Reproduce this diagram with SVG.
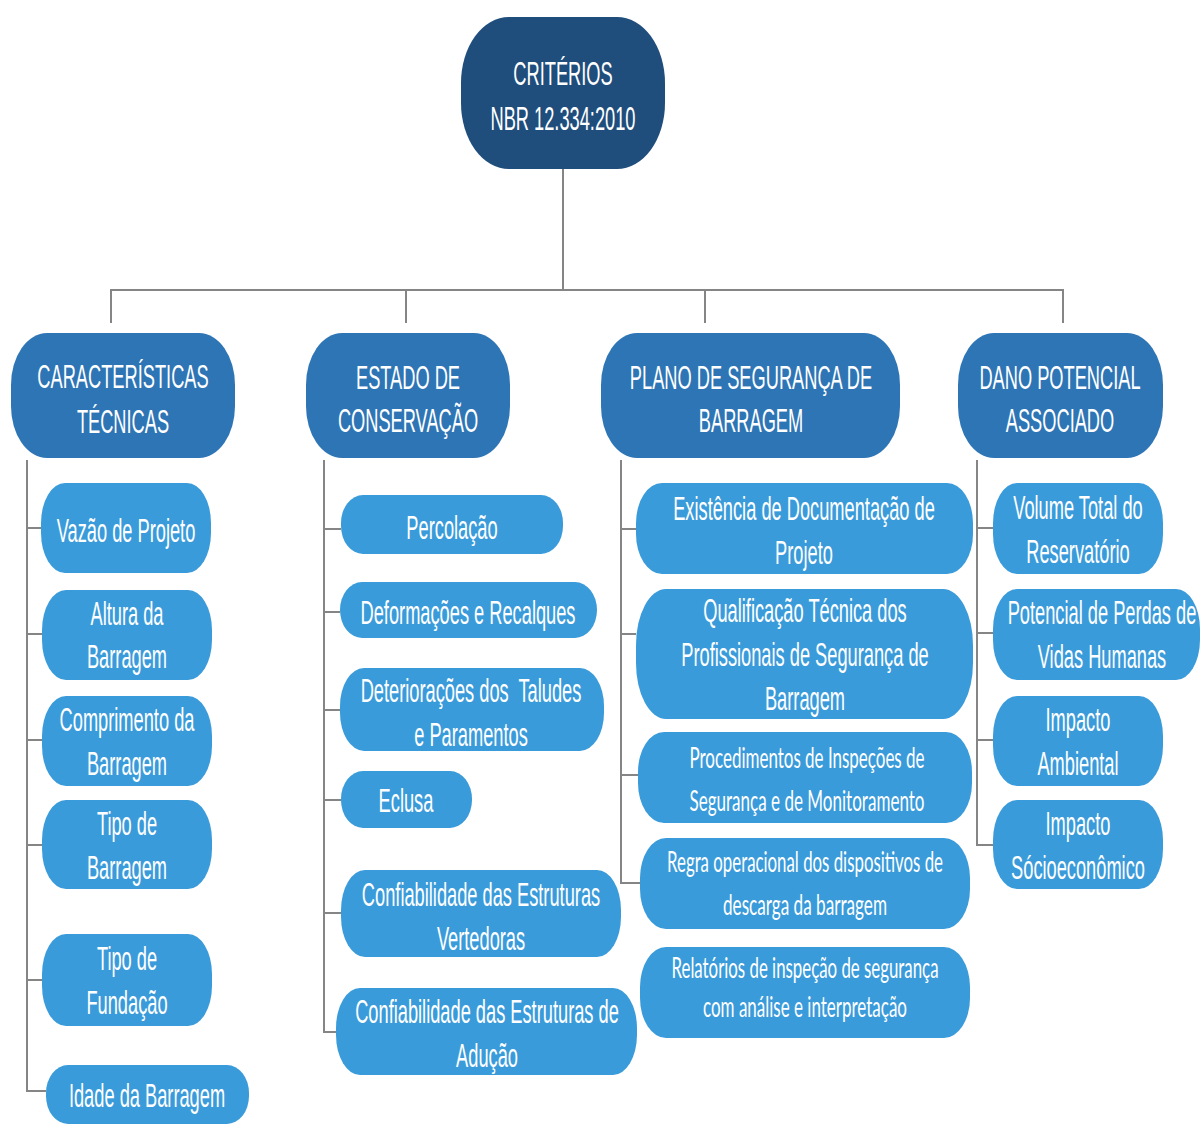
<svg xmlns="http://www.w3.org/2000/svg" width="1200" height="1140" viewBox="0 0 1200 1140">
  <style>
    .root { fill: #1f4e7d; }
    .cat { fill: #2e75b6; }
    .leaf { fill: #3a9bdb; }
    .wire { fill: none; stroke: #858585; stroke-width: 2; }
    .t { font-family: "Liberation Sans", Arial, sans-serif; font-size: 33px; fill: #ffffff; text-anchor: middle; }
    .c { font-family: Lato, "Open Sans", sans-serif; font-size: 28px; fill: #ffffff; text-anchor: middle; }
  </style>

  <rect width="1200" height="1140" fill="#ffffff"/>

  <!-- connectors -->
  <g id="connectors" class="wire">
    <path d="M563 169 V290"/>
    <path d="M111 323 V290 H1063 V323"/>
    <path d="M406 290 V323"/>
    <path d="M705 290 V323"/>
    <!-- column 1 spine -->
    <path d="M27 460 V1091 H46"/>
    <path d="M27 528 H41"/>
    <path d="M27 634 H42"/>
    <path d="M27 740 H42"/>
    <path d="M27 845 H42"/>
    <path d="M27 980 H42"/>
    <!-- column 2 spine -->
    <path d="M324 460 V1032 H336"/>
    <path d="M324 529 H341"/>
    <path d="M324 612 H340"/>
    <path d="M324 710 H340"/>
    <path d="M324 800 H341"/>
    <path d="M324 913 H341"/>
    <!-- column 3 spine -->
    <path d="M621 460 V883 H640"/>
    <path d="M621 529 H636"/>
    <path d="M621 634 H636"/>
    <path d="M621 775 H638"/>
    <!-- column 4 spine -->
    <path d="M977 460 V845 H993"/>
    <path d="M977 528 H993"/>
    <path d="M977 633 H993"/>
    <path d="M977 740 H993"/>
  </g>

  <!-- root -->
  <g id="criterios">
    <rect class="root" x="461" y="17" width="204" height="152" rx="48" ry="66"/>
    <g transform="translate(563 0) scale(0.553 1)">
      <text class="t" x="0" y="85">CRITÉRIOS</text>
      <text class="t" x="0" y="130">NBR 12.334:2010</text>
    </g>
  </g>

  <!-- categories -->
  <g id="caracteristicas-tecnicas">
    <rect class="cat" x="11" y="333" width="224" height="125" rx="36" ry="52"/>
    <g transform="translate(123 0) scale(0.553 1)">
      <text class="t" x="0" y="388">CARACTERÍSTICAS</text>
      <text class="t" x="0" y="433">TÉCNICAS</text>
    </g>
  </g>
  <g id="estado-de-conservacao">
    <rect class="cat" x="306" y="333" width="204" height="125" rx="36" ry="52"/>
    <g transform="translate(408 0) scale(0.553 1)">
      <text class="t" x="0" y="389">ESTADO DE</text>
      <text class="t" x="0" y="432">CONSERVAÇÃO</text>
    </g>
  </g>
  <g id="plano-de-seguranca">
    <rect class="cat" x="601" y="333" width="299" height="125" rx="36" ry="52"/>
    <g transform="translate(751 0) scale(0.553 1)">
      <text class="t" x="0" y="389">PLANO DE SEGURANÇA DE</text>
      <text class="t" x="0" y="432">BARRAGEM</text>
    </g>
  </g>
  <g id="dano-potencial">
    <rect class="cat" x="958" y="333" width="205" height="125" rx="36" ry="52"/>
    <g transform="translate(1060 0) scale(0.553 1)">
      <text class="t" x="0" y="389">DANO POTENCIAL</text>
      <text class="t" x="0" y="432">ASSOCIADO</text>
    </g>
  </g>

  <!-- column 1: características técnicas -->
  <g id="vazao-de-projeto">
    <rect class="leaf" x="41" y="483" width="170" height="90" rx="24" ry="40"/>
    <g transform="translate(126 0) scale(0.553 1)">
      <text class="t" x="0" y="542">Vazão de Projeto</text>
    </g>
  </g>
  <g id="altura-da-barragem">
    <rect class="leaf" x="42" y="590" width="170" height="90" rx="24" ry="40"/>
    <g transform="translate(127 0) scale(0.553 1)">
      <text class="t" x="0" y="625">Altura da</text>
      <text class="t" x="0" y="668">Barragem</text>
    </g>
  </g>
  <g id="comprimento-da-barragem">
    <rect class="leaf" x="42" y="696" width="170" height="90" rx="24" ry="40"/>
    <g transform="translate(127 0) scale(0.553 1)">
      <text class="t" x="0" y="731">Comprimento da</text>
      <text class="t" x="0" y="775">Barragem</text>
    </g>
  </g>
  <g id="tipo-de-barragem">
    <rect class="leaf" x="42" y="800" width="170" height="89" rx="24" ry="40"/>
    <g transform="translate(127 0) scale(0.553 1)">
      <text class="t" x="0" y="835">Tipo de</text>
      <text class="t" x="0" y="879">Barragem</text>
    </g>
  </g>
  <g id="tipo-de-fundacao">
    <rect class="leaf" x="42" y="934" width="170" height="92" rx="24" ry="40"/>
    <g transform="translate(127 0) scale(0.553 1)">
      <text class="t" x="0" y="970">Tipo de</text>
      <text class="t" x="0" y="1014">Fundação</text>
    </g>
  </g>
  <g id="idade-da-barragem">
    <rect class="leaf" x="46" y="1065" width="203" height="59" rx="22" ry="28"/>
    <g transform="translate(147 0) scale(0.553 1)">
      <text class="t" x="0" y="1107">Idade da Barragem</text>
    </g>
  </g>

  <!-- column 2: estado de conservação -->
  <g id="percolacao">
    <rect class="leaf" x="341" y="495" width="222" height="59" rx="22" ry="28"/>
    <g transform="translate(452 0) scale(0.553 1)">
      <text class="t" x="0" y="539">Percolação</text>
    </g>
  </g>
  <g id="deformacoes-e-recalques">
    <rect class="leaf" x="340" y="582" width="257" height="56" rx="22" ry="28"/>
    <g transform="translate(468 0) scale(0.553 1)">
      <text class="t" x="0" y="624">Deformações e Recalques</text>
    </g>
  </g>
  <g id="deterioracoes">
    <rect class="leaf" x="340" y="668" width="264" height="83" rx="24" ry="38"/>
    <g transform="translate(471 0) scale(0.553 1)">
      <text class="t" x="0" y="702" xml:space="preserve">Deteriorações dos  Taludes</text>
      <text class="t" x="0" y="746">e Paramentos</text>
    </g>
  </g>
  <g id="eclusa">
    <rect class="leaf" x="341" y="771" width="131" height="57" rx="22" ry="28"/>
    <g transform="translate(406 0) scale(0.553 1)">
      <text class="t" x="0" y="812">Eclusa</text>
    </g>
  </g>
  <g id="estruturas-vertedoras">
    <rect class="leaf" x="341" y="870" width="280" height="87" rx="24" ry="40"/>
    <g transform="translate(481 0) scale(0.553 1)">
      <text class="t" x="0" y="906">Confiabilidade das Estruturas</text>
      <text class="t" x="0" y="950">Vertedoras</text>
    </g>
  </g>
  <g id="estruturas-de-aducao">
    <rect class="leaf" x="336" y="988" width="301" height="87" rx="24" ry="40"/>
    <g transform="translate(487 0) scale(0.553 1)">
      <text class="t" x="0" y="1023">Confiabilidade das Estruturas de</text>
      <text class="t" x="0" y="1067">Adução</text>
    </g>
  </g>

  <!-- column 3: plano de segurança de barragem -->
  <g id="documentacao-de-projeto">
    <rect class="leaf" x="636" y="483" width="337" height="91" rx="26" ry="40"/>
    <g transform="translate(804 0) scale(0.553 1)">
      <text class="t" x="0" y="520">Existência de Documentação de</text>
      <text class="t" x="0" y="564">Projeto</text>
    </g>
  </g>
  <g id="qualificacao-tecnica">
    <rect class="leaf" x="636" y="589" width="337" height="130" rx="30" ry="56"/>
    <g transform="translate(805 0) scale(0.553 1)">
      <text class="t" x="0" y="622">Qualificação Técnica dos</text>
      <text class="t" x="0" y="666">Profissionais de Segurança de</text>
      <text class="t" x="0" y="710">Barragem</text>
    </g>
  </g>
  <g id="procedimentos-de-inspecao">
    <rect class="leaf" x="638" y="732" width="334" height="91" rx="26" ry="40"/>
    <text class="c" x="807" y="768" textLength="235" lengthAdjust="spacingAndGlyphs">Procedimentos de Inspeções de</text>
    <text class="c" x="807" y="811" textLength="235" lengthAdjust="spacingAndGlyphs">Segurança e de Monitoramento</text>
  </g>
  <g id="regra-operacional">
    <rect class="leaf" x="640" y="838" width="330" height="91" rx="26" ry="40"/>
    <text class="c" x="805" y="872" textLength="276" lengthAdjust="spacingAndGlyphs">Regra operacional dos dispositivos de</text>
    <text class="c" x="805" y="915" textLength="164" lengthAdjust="spacingAndGlyphs">descarga da barragem</text>
  </g>
  <g id="relatorios-de-inspecao">
    <rect class="leaf" x="640" y="947" width="330" height="91" rx="26" ry="40"/>
    <text class="c" x="805" y="978" textLength="267" lengthAdjust="spacingAndGlyphs">Relatórios de inspeção de segurança</text>
    <text class="c" x="805" y="1017" textLength="204" lengthAdjust="spacingAndGlyphs">com análise e interpretação</text>
  </g>

  <!-- column 4: dano potencial associado -->
  <g id="volume-do-reservatorio">
    <rect class="leaf" x="993" y="483" width="170" height="91" rx="24" ry="40"/>
    <g transform="translate(1078 0) scale(0.553 1)">
      <text class="t" x="0" y="519">Volume Total do</text>
      <text class="t" x="0" y="563">Reservatório</text>
    </g>
  </g>
  <g id="perdas-de-vidas">
    <rect class="leaf" x="993" y="589" width="207" height="91" rx="24" ry="40"/>
    <g transform="translate(1102 0) scale(0.553 1)">
      <text class="t" x="0" y="624">Potencial de Perdas de</text>
      <text class="t" x="0" y="668">Vidas Humanas</text>
    </g>
  </g>
  <g id="impacto-ambiental">
    <rect class="leaf" x="993" y="696" width="170" height="90" rx="24" ry="40"/>
    <g transform="translate(1078 0) scale(0.553 1)">
      <text class="t" x="0" y="731">Impacto</text>
      <text class="t" x="0" y="775">Ambiental</text>
    </g>
  </g>
  <g id="impacto-socioeconomico">
    <rect class="leaf" x="993" y="800" width="170" height="89" rx="24" ry="40"/>
    <g transform="translate(1078 0) scale(0.553 1)">
      <text class="t" x="0" y="835">Impacto</text>
      <text class="t" x="0" y="879">Sócioeconômico</text>
    </g>
  </g>
</svg>
